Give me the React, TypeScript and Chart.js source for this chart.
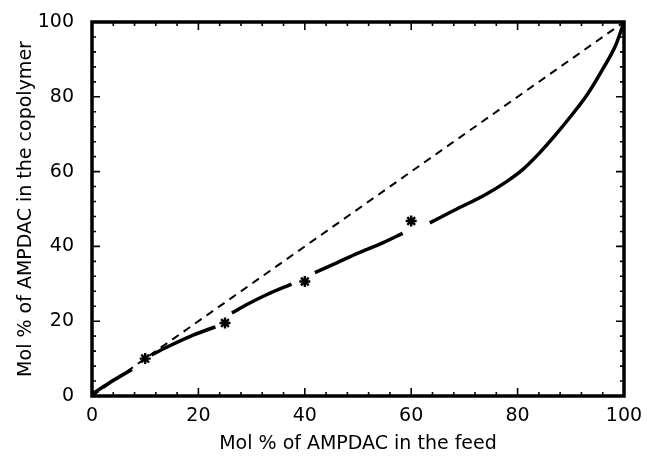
import React, { useEffect, useRef } from "react";
import { Chart, registerables } from "chart.js";

Chart.register(...registerables);

// Diagonal (azeotrope reference) line
const diagX = [0, 100];
const diagY = [0, 100];

// Copolymer composition curve (null = break in the drawn line)
const curveX = [0, 3, 7.5, 8, 11.2, 15, 19, 23.2, 24, 26.3, 29.3, 33, 37.5, 38, 41.9, 46, 50, 54.1, 58.4, 59, 63.5, 68, 74, 78, 81, 84, 87, 90, 93, 96, 98.5, 100];
const curveY = [0.5, 3.3, 7.1, null, 11, 13.7, 16.3, 18.5, null, 22.2, 24.6, 27.2, 29.9, null, 33, 35.6, 38.2, 40.6, 43.5, null, 46.3, 49.6, 53.9, 57.4, 60.6, 64.8, 69.6, 74.8, 80.4, 87.4, 94, 100];

// Experimental points
const expX = [10, 25, 40, 60];
const expY = [10, 19.5, 30.6, 46.8];

const xTitle = "Mol % of AMPDAC in the feed";
const yTitle = "Mol % of AMPDAC in the copolymer";

const FONT = "'DejaVu Sans', Verdana, sans-serif";

const framePlugin = {
  id: "frameTicks",
  afterDatasetsDraw(chart: any) {
    const { ctx, chartArea } = chart;
    const xs = chart.scales.x;
    const ys = chart.scales.y;
    const { left, right, top, bottom } = chartArea;
    ctx.save();
    ctx.strokeStyle = "#000";
    ctx.lineWidth = 1.6;
    for (let v = 0; v <= 100; v += 4) {
      const major = v % 20 === 0;
      const len = major ? 8 : 4;
      const px = xs.getPixelForValue(v);
      const py = ys.getPixelForValue(v);
      ctx.beginPath();
      ctx.moveTo(px, bottom);
      ctx.lineTo(px, bottom - len);
      ctx.moveTo(px, top);
      ctx.lineTo(px, top + len);
      ctx.moveTo(left, py);
      ctx.lineTo(left + len, py);
      ctx.moveTo(right, py);
      ctx.lineTo(right - len, py);
      ctx.stroke();
    }
    ctx.lineWidth = 3.5;
    ctx.strokeRect(left, top, right - left, bottom - top);
    ctx.restore();
  },
};

export default function App() {
  const ref = useRef<HTMLCanvasElement | null>(null);
  useEffect(() => {
    if (!ref.current) return;
    const chart = new Chart(ref.current, {
      type: "line",
      data: {
        datasets: [
          {
            label: "diagonal",
            data: diagX.map((x, i) => ({ x, y: diagY[i] })),
            borderColor: "#000",
            borderWidth: 2,
            borderDash: [8, 6],
            pointRadius: 0,
          },
          {
            label: "curve",
            data: curveX.map((x, i) => ({ x, y: curveY[i] as any })),
            borderColor: "#000",
            borderWidth: 3.5,
            pointRadius: 0,
            cubicInterpolationMode: "monotone",
            spanGaps: false,
          },
          {
            label: "experimental",
            data: expX.map((x, i) => ({ x, y: expY[i] })),
            showLine: false,
            pointStyle: "star",
            pointRadius: 5.5,
            pointBorderWidth: 2.4,
            pointBorderColor: "#000",
            pointBackgroundColor: "#000",
          },
        ],
      },
      options: {
        responsive: false,
        animation: false,
        layout: { padding: { top: 22, right: 23, bottom: 0, left: 0 } },
        plugins: { legend: { display: false }, tooltip: { enabled: false } },
        scales: {
          x: {
            type: "linear",
            min: 0,
            max: 100,
            grid: { display: false },
            border: { display: false },
            ticks: {
              stepSize: 20,
              color: "#000",
              padding: 1,
              font: { family: FONT, size: 19 },
            },
            title: {
              display: true,
              text: xTitle,
              color: "#000",
              font: { family: FONT, size: 19 },
              padding: 5,
            },
            afterFit: (s: any) => {
              s.height = 64;
            },
          },
          y: {
            type: "linear",
            min: 0,
            max: 100,
            grid: { display: false },
            border: { display: false },
            ticks: {
              stepSize: 20,
              color: "#000",
              padding: 10,
              font: { family: FONT, size: 19 },
            },
            title: {
              display: true,
              text: yTitle,
              color: "#000",
              font: { family: FONT, size: 19 },
              padding: 15,
            },
            afterFit: (s: any) => {
              s.width = 92;
            },
          },
        },
      },
      plugins: [framePlugin],
    });
    return () => chart.destroy();
  }, []);
  return (
    <div style={{ position: "fixed", left: 0, top: 0, width: 647, height: 460, background: "#fff" }}>
      <canvas ref={ref} width={647} height={460} />
    </div>
  );
}
